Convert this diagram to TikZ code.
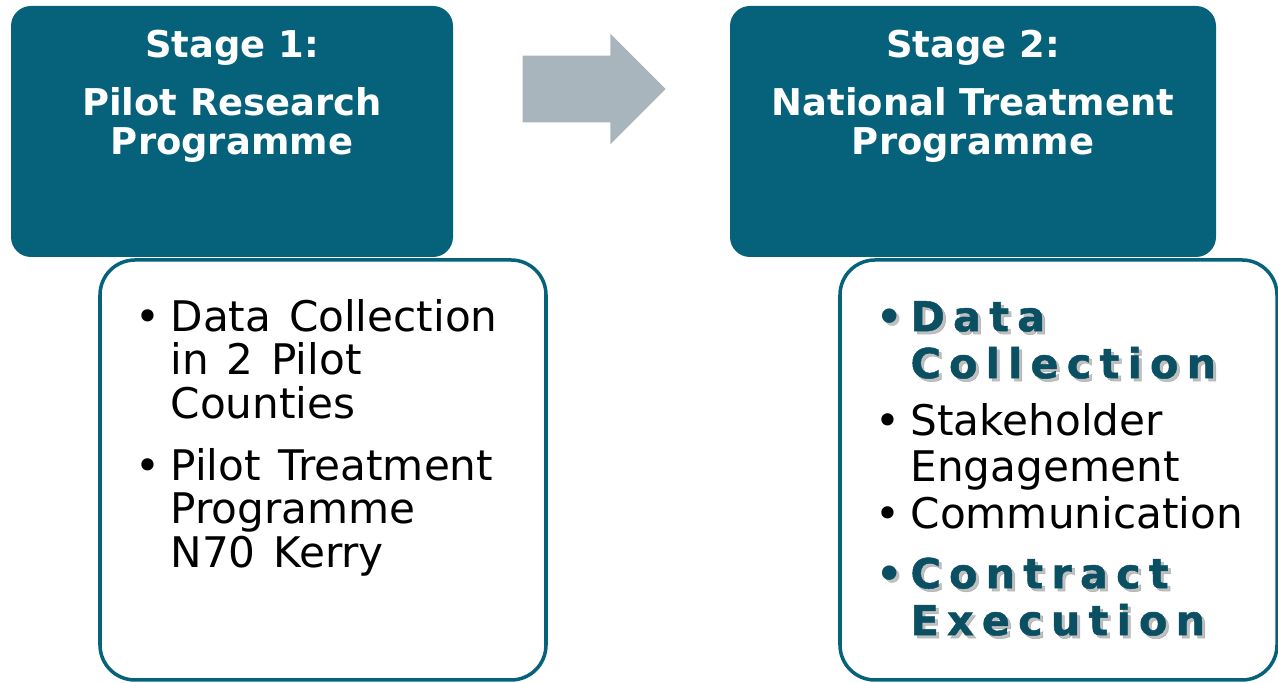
\documentclass[tikz,border=0pt]{standalone}
\usepackage{fontspec}
\setmainfont{DejaVu Sans}
\newfontfamily\trackfont[LetterSpace=20, BoldFeatures={FakeBold=1.2}]{DejaVu Sans}
\usetikzlibrary{shapes.arrows}
\definecolor{stageteal}{HTML}{05627A}
\definecolor{boldteal}{HTML}{0B5062}
\definecolor{arrowgrey}{HTML}{A8B5BC}

\begin{document}
\begin{tikzpicture}[
    stageBox/.style={fill=stageteal, rounded corners=0.4cm, minimum height=5.02cm, inner sep=0},
    listBox/.style={draw=stageteal, line width=2pt, rounded corners=0.7cm, minimum height=8.4cm, inner sep=0},
    titleText/.style={text=white, anchor=base, inner sep=0, font=\fontsize{21}{22.2}\selectfont\bfseries},
    itemLeft/.style={anchor=base west, inner sep=0, font={\fontsize{24}{24.8}\selectfont\spaceskip=0.42em\relax}},
    itemRight/.style={anchor=base west, inner sep=0, font=\fontsize{24}{26.2}\selectfont},
    boldItem/.style={anchor=base west, inner sep=0, text=boldteal, font=\trackfont\bfseries\fontsize{23.5}{26.7}\selectfont},
    boldShadow/.style={boldItem, text=black!45, opacity=0.55, xshift=0.06cm, yshift=-0.06cm},
    ]
    \useasboundingbox (0, 0) rectangle (25.56, 13.66);

    \node[listBox, minimum width=8.92cm] (listOne) at (6.46, 4.26) {};
    \node[listBox, minimum width=8.74cm] (listTwo) at (21.17, 4.26) {};

    \node[stageBox, minimum width=8.84cm] (stageOne) at (4.64, 11.03) {};
    \node[stageBox, minimum width=9.72cm] (stageTwo) at (19.46, 11.03) {};

    \node[titleText, yshift=-1.04cm] (titleOne) at (stageOne.north) {\begin{tabular}[t]{@{}c@{}}Stage 1:\\[10.2pt]Pilot Research\\Programme\end{tabular}};
    \node[titleText, yshift=-1.04cm] (titleTwo) at (stageTwo.north) {\begin{tabular}[t]{@{}c@{}}Stage 2:\\[10.2pt]National Treatment\\Programme\end{tabular}};

    \node[single arrow, fill=arrowgrey, minimum height=2.86cm, minimum width=2.2cm, inner xsep=0, inner ysep=0.66cm, single arrow head extend=0.44cm] (stageArrow) at (11.55, 11.88) {};

    \node[itemLeft, xshift=1.44cm, yshift=-1.46cm] (dataItem) at (listOne.north west) {\parbox[t]{8cm}{\raggedright\leavevmode\llap{•\hspace{0.2cm}}Data Collection\\in 2 Pilot\\Counties}};
    \node[itemLeft, xshift=1.44cm, yshift=-4.44cm] (pilotItem) at (listOne.north west) {\parbox[t]{8cm}{\raggedright\leavevmode\llap{•\hspace{0.2cm}}Pilot Treatment\\Programme\\N70 Kerry}};

    \node[boldShadow, xshift=1.44cm, yshift=-1.46cm] (dataShadow) at (listTwo.north west) {\parbox[t]{8cm}{\raggedright\leavevmode\llap{\rmfamily•\hspace{0.15cm}}Data\\Collection}};
    \node[boldItem, xshift=1.44cm, yshift=-1.46cm] (dataTwo) at (listTwo.north west) {\parbox[t]{8cm}{\raggedright\leavevmode\llap{\rmfamily•\hspace{0.15cm}}Data\\Collection}};
    \node[itemRight, xshift=1.44cm, yshift=-3.54cm] (stakeItem) at (listTwo.north west) {\parbox[t]{8cm}{\raggedright\leavevmode\llap{•\hspace{0.2cm}}Stakeholder\\Engagement}};
    \node[itemRight, xshift=1.44cm, yshift=-5.4cm] (commItem) at (listTwo.north west) {\parbox[t]{8cm}{\raggedright\leavevmode\llap{•\hspace{0.2cm}}Communication}};
    \node[boldShadow, xshift=1.44cm, yshift=-6.6cm] (contractShadow) at (listTwo.north west) {\parbox[t]{8cm}{\raggedright\leavevmode\llap{\rmfamily•\hspace{0.15cm}}Contract\\Execution}};
    \node[boldItem, xshift=1.44cm, yshift=-6.6cm] (contractItem) at (listTwo.north west) {\parbox[t]{8cm}{\raggedright\leavevmode\llap{\rmfamily•\hspace{0.15cm}}Contract\\Execution}};
\end{tikzpicture}
\end{document}
